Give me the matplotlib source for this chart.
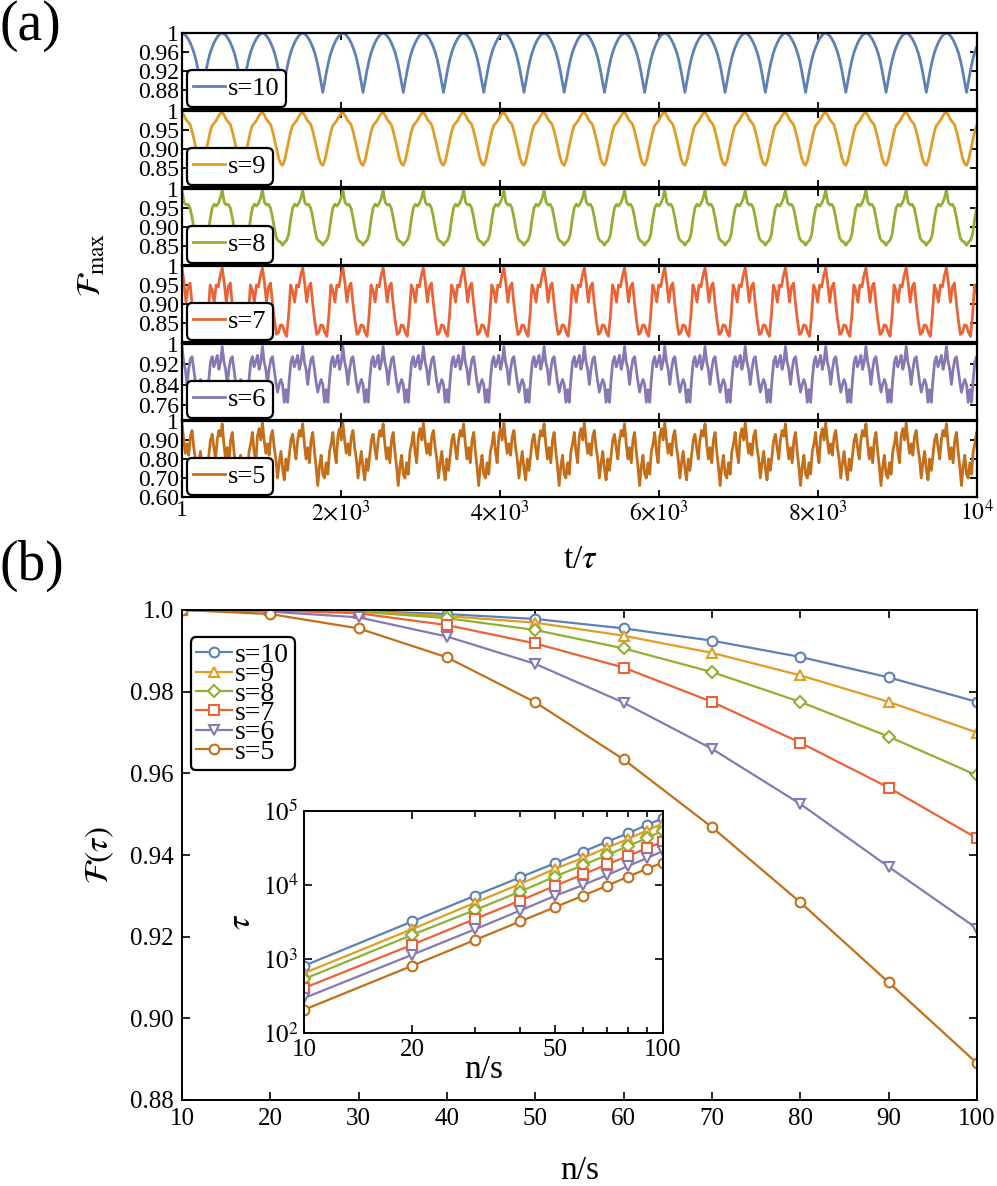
import numpy as np
import matplotlib
matplotlib.use('Agg')
import matplotlib.pyplot as plt
from matplotlib.ticker import FixedLocator, NullFormatter, NullLocator

plt.rcParams['font.family'] = 'serif'
plt.rcParams['font.serif'] = ['Liberation Serif', 'DejaVu Serif']
plt.rcParams['mathtext.fontset'] = 'stix'

# ---------------- data ----------------
s_values = [10, 9, 8, 7, 6, 5]
colors = ['#5E81B5', '#E19C24', '#8FB032', '#EB6235', '#8778B3', '#C56E1A']

# panel (a): F_max(t) over one (or two) periods (period ~506 t/tau)
period = 506.0
n_periods = 20
profile_s10 = [1.000, 0.998, 0.994, 0.988, 0.980, 0.970, 0.958, 0.942, 0.922, 0.898,
               0.875, 0.898, 0.922, 0.942, 0.958, 0.970, 0.980, 0.988, 0.994, 0.998]
profile_s9 = [0.996, 0.989, 0.978, 0.971, 0.965, 0.947, 0.925, 0.901, 0.877, 0.862,
              0.857, 0.870, 0.895, 0.920, 0.945, 0.962, 0.968, 0.975, 0.985, 0.993]
profile_s8 = [0.997, 0.965, 0.958, 0.960, 0.950, 0.925, 0.895, 0.870, 0.863, 0.860,
              0.852, 0.860, 0.865, 0.880, 0.920, 0.950, 0.960, 0.955, 0.962, 0.975]
profile_s7 = [0.995, 0.955, 0.905, 0.945, 0.955, 0.900, 0.855, 0.820, 0.825, 0.845,
              0.843, 0.825, 0.815, 0.870, 0.950, 0.935, 0.905, 0.950, 0.945, 0.975]
profile_s6 = [0.990, 0.930, 0.900, 0.840, 0.900, 0.940, 0.950, 0.900, 0.850, 0.810,
              0.840, 0.860, 0.840, 0.770, 0.820, 0.770, 0.860, 0.930, 0.950, 0.910,
              0.930, 0.955, 0.900, 0.930]
profile_s5 = [0.990, 0.900, 0.830, 0.880, 0.820, 0.920, 0.950, 0.860, 0.800, 0.700,
              0.780, 0.840, 0.750, 0.690, 0.800, 0.740, 0.820, 0.900, 0.930, 0.860,
              0.800, 0.900, 0.950, 0.920,
              0.985, 0.880, 0.800, 0.860, 0.780, 0.900, 0.940, 0.840, 0.760, 0.660,
              0.760, 0.820, 0.720, 0.700, 0.780, 0.720, 0.840, 0.880, 0.940, 0.840,
              0.780, 0.920, 0.960, 0.900]
profiles = [profile_s10, profile_s9, profile_s8, profile_s7, profile_s6, profile_s5]
periods_per_profile = [1, 1, 1, 1, 1, 2]

a_ylims = [(0.84, 1.0), (0.80, 1.0), (0.80, 1.0), (0.80, 1.0), (0.70, 1.0), (0.60, 1.0)]
a_yticks = [[0.88, 0.92, 0.96, 1.0], [0.85, 0.90, 0.95, 1.0], [0.85, 0.90, 0.95, 1.0],
            [0.85, 0.90, 0.95, 1.0], [0.76, 0.84, 0.92, 1.0], [0.60, 0.70, 0.80, 0.90, 1.0]]
a_yticklabels = [['0.88', '0.92', '0.96', '1'], ['0.85', '0.90', '0.95', '1'],
                 ['0.85', '0.90', '0.95', '1'], ['0.85', '0.90', '0.95', '1'],
                 ['0.76', '0.84', '0.92', '1'], ['0.60', '0.70', '0.80', '0.90', '1']]
a_xticks = [1, 2000, 4000, 6000, 8000, 10000]
a_xticklabels = ['1', r'$2{\times}10^3$', r'$4{\times}10^3$', r'$6{\times}10^3$',
                 r'$8{\times}10^3$', r'$10^4$']

# panel (b): fidelity at tau vs n/s
ns = [10, 20, 30, 40, 50, 60, 70, 80, 90, 100]
F_s10 = [1.0, 1.0, 0.9998, 0.9990, 0.9978, 0.9955, 0.9925, 0.9885, 0.9835, 0.9775]
F_s9 = [1.0, 1.0, 0.9997, 0.9985, 0.9969, 0.9937, 0.9895, 0.9840, 0.9775, 0.9700]
F_s8 = [1.0, 0.9999, 0.9996, 0.9980, 0.9951, 0.9906, 0.9848, 0.9775, 0.9690, 0.9595]
F_s7 = [1.0, 0.9999, 0.9992, 0.9963, 0.9918, 0.9859, 0.9775, 0.9675, 0.9565, 0.9441]
F_s6 = [1.0, 0.9996, 0.9982, 0.9935, 0.9868, 0.9773, 0.9660, 0.9525, 0.9371, 0.9220]
F_s5 = [1.0, 0.9990, 0.9955, 0.9884, 0.9774, 0.9634, 0.9468, 0.9284, 0.9088, 0.8890]
F_all = [F_s10, F_s9, F_s8, F_s7, F_s6, F_s5]
b_yticks = [0.88, 0.90, 0.92, 0.94, 0.96, 0.98, 1.0]
b_yticklabels = ['0.88', '0.90', '0.92', '0.94', '0.96', '0.98', '1.0']

# inset: tau vs n/s
tau_s10 = [809, 3212, 7200, 12700, 19700, 28300, 38600, 50000, 64700, 79600]
tau_s9 = [644, 2529, 5790, 10350, 16500, 23400, 32000, 41900, 54300, 68200]
tau_s8 = [535, 2120, 4610, 8150, 13000, 18700, 25500, 33700, 42800, 54300]
tau_s7 = [405, 1556, 3490, 6160, 9720, 13970, 19060, 24700, 31400, 38600]
tau_s6 = [296, 1140, 2530, 4520, 7130, 10030, 13680, 18100, 22970, 28800]
tau_s5 = [206, 809, 1815, 3212, 5010, 7200, 9820, 13000, 16500, 20100]
tau_all = [tau_s10, tau_s9, tau_s8, tau_s7, tau_s6, tau_s5]
markers = ['o', '^', 'D', 's', 'v', 'o']
msizes = [7, 7.5, 6, 6.5, 7.5, 7]

# ---------------- figure ----------------
W, H = 997, 1186
fig = plt.figure(figsize=(W / 100, H / 100), dpi=100)

def fx(px):
    return px / W

def fy(py):
    return 1 - py / H

left, right = 182, 977
tops = [33, 111, 189, 266, 344, 421]
ph = 76
for k in range(6):
    ax = fig.add_axes([fx(left), fy(tops[k] + ph), fx(right - left), ph / H])
    prof = profiles[k]
    npp = periods_per_profile[k]
    N = len(prof)
    reps = int(np.ceil(n_periods / npp))
    phase = np.arange(N * reps + 1) / N * npp
    t = 1 + period * phase
    vals = np.concatenate([np.tile(prof, reps), [prof[0]]])
    ax.plot(t, vals, color=colors[k], lw=2.0, label='s=%d' % s_values[k])
    ax.set_xlim(1, 10000)
    ax.set_ylim(*a_ylims[k])
    ax.set_yticks(a_yticks[k])
    ax.set_yticklabels(a_yticklabels[k])
    ax.set_xticks(a_xticks)
    if k == 5:
        ax.set_xticklabels(a_xticklabels)
    else:
        ax.set_xticklabels([])
    ax.tick_params(direction='in', top=True, right=True, labelsize=17, width=1.3, length=5,
                   pad=2)
    for sp in ax.spines.values():
        sp.set_linewidth(1.6)
    leg = ax.legend(loc='lower left', bbox_to_anchor=(0.006, 0.03), borderaxespad=0,
                    fontsize=19, handlelength=1.2, handletextpad=0.1, borderpad=0.25,
                    framealpha=1, edgecolor='black', fancybox=True)
    leg.get_frame().set_linewidth(1.6)

fig.text(0.0, fy(0), '(a)', fontsize=40, va='top', ha='left')
fig.text(fx(92), fy(265), r'$\mathcal{F}_{\max}$', fontsize=24, rotation=90,
         va='center', ha='center')
fig.text(fx(580), fy(560), r't/$\tau$', fontsize=24, va='center', ha='center')

# panel (b)
axb = fig.add_axes([fx(182), fy(1100), fx(977 - 182), (1100 - 610) / H])
for k in range(6):
    axb.plot(ns, F_all[k], color=colors[k], lw=1.6, marker=markers[k], ms=msizes[k],
             mfc='white', mec=colors[k], mew=1.5, label='s=%d' % s_values[k])
axb.set_xlim(10, 100)
axb.set_ylim(0.88, 1.0)
axb.set_xticks(ns)
axb.set_yticks(b_yticks)
axb.set_yticklabels(b_yticklabels)
axb.tick_params(direction='in', top=True, right=True, labelsize=18, width=1.2, length=6,
                pad=6)
for sp in axb.spines.values():
    sp.set_linewidth(1.4)
axb.set_xlabel('n/s', fontsize=24, labelpad=18)
axb.set_ylabel(r'$\mathcal{F}(\tau)$', fontsize=24, labelpad=10)
legb = axb.legend(loc='upper left', bbox_to_anchor=(0.011, 0.945), borderaxespad=0,
                  fontsize=20, handlelength=1.3, handletextpad=0.1, borderpad=0.2,
                  labelspacing=-0.22, framealpha=1, edgecolor='black', fancybox=True)
legb.get_frame().set_linewidth(1.6)
fig.text(0.0, fy(540), '(b)', fontsize=40, va='top', ha='left')

# inset
axi = fig.add_axes([fx(304), fy(1033), fx(663 - 304), (1033 - 811) / H])
for k in range(6):
    axi.plot(ns, tau_all[k], color=colors[k], lw=1.6, marker=markers[k], ms=msizes[k],
             mfc='white', mec=colors[k], mew=1.5)
axi.set_xscale('log')
axi.set_yscale('log')
axi.set_xlim(10, 100)
axi.set_ylim(1e2, 1e5)
axi.xaxis.set_major_locator(FixedLocator([10, 20, 50, 100]))
axi.xaxis.set_minor_locator(FixedLocator([30, 40, 60, 70, 80, 90]))
axi.xaxis.set_minor_formatter(NullFormatter())
axi.set_xticklabels(['10', '20', '50', '100'])
axi.yaxis.set_major_locator(FixedLocator([1e2, 1e3, 1e4, 1e5]))
axi.yaxis.set_minor_locator(NullLocator())
axi.set_yticklabels([r'$10^2$', r'$10^3$', r'$10^4$', r'$10^5$'])
axi.tick_params(which='both', direction='in', top=True, right=True, labelsize=18,
                width=1.2, pad=4)
axi.tick_params(which='major', length=6)
axi.tick_params(which='minor', length=4)
for sp in axi.spines.values():
    sp.set_linewidth(1.4)
axi.set_xlabel('n/s', fontsize=24, labelpad=-4)
axi.set_ylabel(r'$\tau$', fontsize=24, labelpad=4)

fig.savefig('out.png', dpi=100)
